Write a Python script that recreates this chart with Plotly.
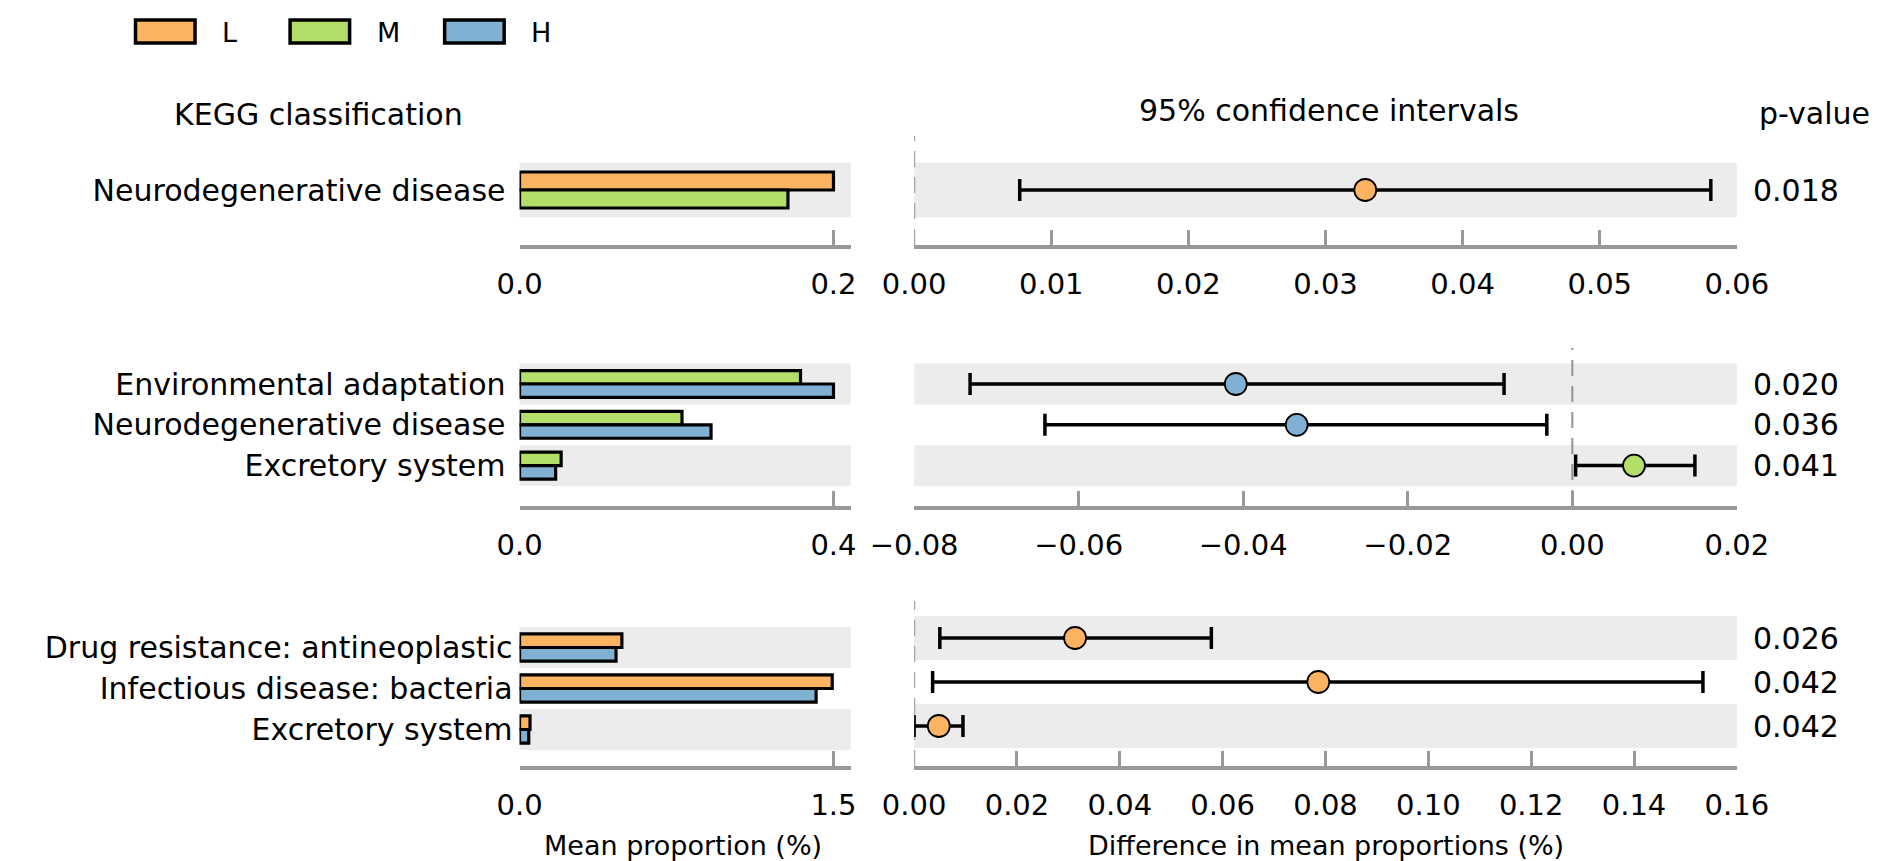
import plotly.graph_objects as go

# ---------------- data ----------------
p1_cats = ["Neurodegenerative disease"]
p1_groups = ["L", "M"]
p1_a = [0.200]
p1_b = [0.171]
p1_diff = [0.0329]
p1_lo = [0.0077]
p1_hi = [0.0581]
p1_p = ["0.018"]
p1_ticks = [0.0, 0.2]
p1_ci_range = [0.0, 0.06]
p1_ci_dtick = 0.01

p2_cats = ["Environmental adaptation", "Neurodegenerative disease", "Excretory system"]
p2_groups = ["M", "H"]
p2_a = [0.358, 0.207, 0.053]
p2_b = [0.400, 0.244, 0.046]
p2_diff = [-0.0409, -0.0335, 0.0075]
p2_lo = [-0.0732, -0.0641, 0.0004]
p2_hi = [-0.0083, -0.0031, 0.0149]
p2_p = ["0.020", "0.036", "0.041"]
p2_ticks = [0.0, 0.4]
p2_ci_range = [-0.08, 0.02]
p2_ci_dtick = 0.02

p3_cats = ["Drug resistance: antineoplastic", "Infectious disease: bacteria", "Excretory system"]
p3_groups = ["L", "H"]
p3_a = [0.489, 1.494, 0.050]
p3_b = [0.461, 1.417, 0.044]
p3_diff = [0.0313, 0.0786, 0.0048]
p3_lo = [0.0050, 0.0036, 0.0000]
p3_hi = [0.0578, 0.1534, 0.0095]
p3_p = ["0.026", "0.042", "0.042"]
p3_ticks = [0.0, 1.5]
p3_ci_range = [0.0, 0.16]
p3_ci_dtick = 0.02

group_colors = {"L": "#FDB462", "M": "#B3DE69", "H": "#80B1D3"}

# ---------------- layout geometry (pixels) ----------------
W, H = 1902, 861
LEFT_X = (487, 832)
LEFT_TICK_PX = 814          # pixel of the upper left tick
RIGHT_X = (898, 1755)
# per panel: (left geometry, right geometry); geometry = first row centre, row height, top, axis line
geo = [
    ((182, 54.5, 150, 237), (182, 54.5, 128, 237)),
    ((376, 40.8, 352, 498), (376, 40.8, 340, 498)),
    ((639.5, 41.0, 612, 758), (630, 44.0, 593, 758)),
]
LABEL_STANDOFF = [13, 13, 6]
BAR_FRAC = 0.33

FONT = "DejaVu Sans"
BAND = "#ECECEC"
AXC = "#999999"


def fx(px):
    return px / W


def fy(px):
    return 1 - px / H


panels = [
    (p1_cats, p1_groups, p1_a, p1_b, p1_diff, p1_lo, p1_hi, p1_p, p1_ticks, p1_ci_range, p1_ci_dtick),
    (p2_cats, p2_groups, p2_a, p2_b, p2_diff, p2_lo, p2_hi, p2_p, p2_ticks, p2_ci_range, p2_ci_dtick),
    (p3_cats, p3_groups, p3_a, p3_b, p3_diff, p3_lo, p3_hi, p3_p, p3_ticks, p3_ci_range, p3_ci_dtick),
]

fig = go.Figure()
layout = {}
shapes = []
annotations = []

for k, (cats, groups, a, b, diff, lo, hi, pv, ticks, cirange, cidt) in enumerate(panels):
    n = len(cats)
    rows = list(range(n))
    li = 2 * k + 1
    ri = 2 * k + 2
    lx = "x" if li == 1 else f"x{li}"
    ly = "y" if li == 1 else f"y{li}"
    rx = f"x{ri}"
    ry = f"y{ri}"

    def yspec(g):
        c0, row, top, axis = g
        return [(axis - c0) / row, -(c0 - top) / row], [fy(axis), fy(top)]

    lyr, lydom = yspec(geo[k][0])
    ryr, rydom = yspec(geo[k][1])

    # left bars
    for gi, (g, vals) in enumerate([(groups[0], a), (groups[1], b)]):
        fig.add_trace(go.Bar(
            x=vals, y=rows, orientation="h", width=BAR_FRAC,
            offset=-BAR_FRAC if gi == 0 else 0,
            marker=dict(color=group_colors[g], line=dict(color="black", width=3.2)),
            xaxis=lx, yaxis=ly, showlegend=False, name=g,
        ))

    # CI points
    colors = [group_colors[groups[0]] if d > 0 else group_colors[groups[1]] for d in diff]
    fig.add_trace(go.Scatter(
        x=diff, y=rows, mode="markers",
        marker=dict(size=22, color=colors, line=dict(color="black", width=1.8)),
        error_x=dict(type="data", symmetric=False,
                     array=[h - d for h, d in zip(hi, diff)],
                     arrayminus=[d - l for d, l in zip(diff, lo)],
                     color="black", thickness=3.5, width=11),
        xaxis=rx, yaxis=ry, showlegend=False,
    ))

    lmax = ticks[1] * (LEFT_X[1] - LEFT_X[0]) / (LEFT_TICK_PX - LEFT_X[0])
    common_x = dict(showgrid=False, zeroline=False, showline=True, linecolor=AXC, linewidth=3.5,
                    ticks="inside", ticklen=15, tickwidth=2.5, tickcolor=AXC,
                    tickfont=dict(family=FONT, size=29, color="black"), ticklabelstandoff=10,
                    fixedrange=True)
    layout[("xaxis" if li == 1 else f"xaxis{li}")] = dict(
        common_x, domain=[fx(LEFT_X[0]), fx(LEFT_X[1])], range=[0, lmax], anchor=ly,
        tickvals=ticks, ticktext=[f"{t:.1f}" for t in ticks])
    layout[f"xaxis{ri}"] = dict(
        common_x, domain=[fx(RIGHT_X[0]), fx(RIGHT_X[1])], range=cirange, anchor=ry,
        dtick=cidt, tick0=0, tickformat=".2f")
    layout[("yaxis" if li == 1 else f"yaxis{li}")] = dict(
        domain=lydom, range=lyr, anchor=lx, showgrid=False, zeroline=False, showline=False,
        tickvals=rows, ticktext=cats, ticks="", ticklabelstandoff=LABEL_STANDOFF[k],
        tickfont=dict(family=FONT, size=30, color="black"), fixedrange=True)
    layout[f"yaxis{ri}"] = dict(
        domain=rydom, range=ryr, anchor=rx, showgrid=False, zeroline=False, showline=False,
        showticklabels=False, ticks="", fixedrange=True)

    # bands
    for i in rows:
        if i % 2 == 0:
            for xr, yrf in ((lx, ly), (rx, ry)):
                shapes.append(dict(type="rect", xref=f"{xr} domain", yref=yrf,
                                   x0=0, x1=1, y0=i - 0.5, y1=i + 0.5,
                                   fillcolor=BAND, line=dict(width=0), layer="below"))
    # zero dashed line
    shapes.append(dict(type="line", xref=rx, yref=f"{ry} domain", x0=0, x1=0, y0=0, y1=1,
                       line=dict(color=AXC, width=2.2, dash="16px,10px"), layer="below"))
    # p-values
    for i, p in enumerate(pv):
        annotations.append(dict(text=p, xref="paper", yref=ry, x=fx(1770), y=i,
                                xanchor="left", yanchor="middle", showarrow=False,
                                font=dict(family=FONT, size=30, color="black")))

# headers and axis titles
titles = [
    ("KEGG classification", 278, 107, "center"),
    ("95% confidence intervals", 1330, 102, "center"),
    ("p-value", 1776, 106, "left"),
    ("Mean proportion (%)", 657, 837, "center"),
    ("Difference in mean proportions (%)", 1327, 837, "center"),
]
title_sizes = [30, 30, 30, 27, 27]
for (t, tx, ty, anc), sz in zip(titles, title_sizes):
    annotations.append(dict(text=t, xref="paper", yref="paper", x=fx(tx), y=fy(ty),
                            xanchor=anc, yanchor="middle", showarrow=False,
                            font=dict(family=FONT, size=sz, color="black")))

# legend
legend_items = ["L", "M", "H"]
box_x = [87, 248, 409]
for g, bx in zip(legend_items, box_x):
    shapes.append(dict(type="rect", xref="paper", yref="paper",
                       x0=fx(bx), x1=fx(bx + 62), y0=fy(35), y1=fy(12),
                       fillcolor=group_colors[g], line=dict(color="black", width=3.5)))
    annotations.append(dict(text=g, xref="paper", yref="paper", x=fx(bx + 88), y=fy(25),
                            xanchor="left", yanchor="middle", showarrow=False,
                            font=dict(family=FONT, size=27, color="black")))

fig.update_layout(
    **layout,
    shapes=shapes, annotations=annotations,
    width=W, height=H, autosize=False,
    margin=dict(l=0, r=0, t=0, b=0),
    paper_bgcolor="white", plot_bgcolor="rgba(0,0,0,0)",
    barmode="overlay", showlegend=False,
)

fig.write_html("out.html")
